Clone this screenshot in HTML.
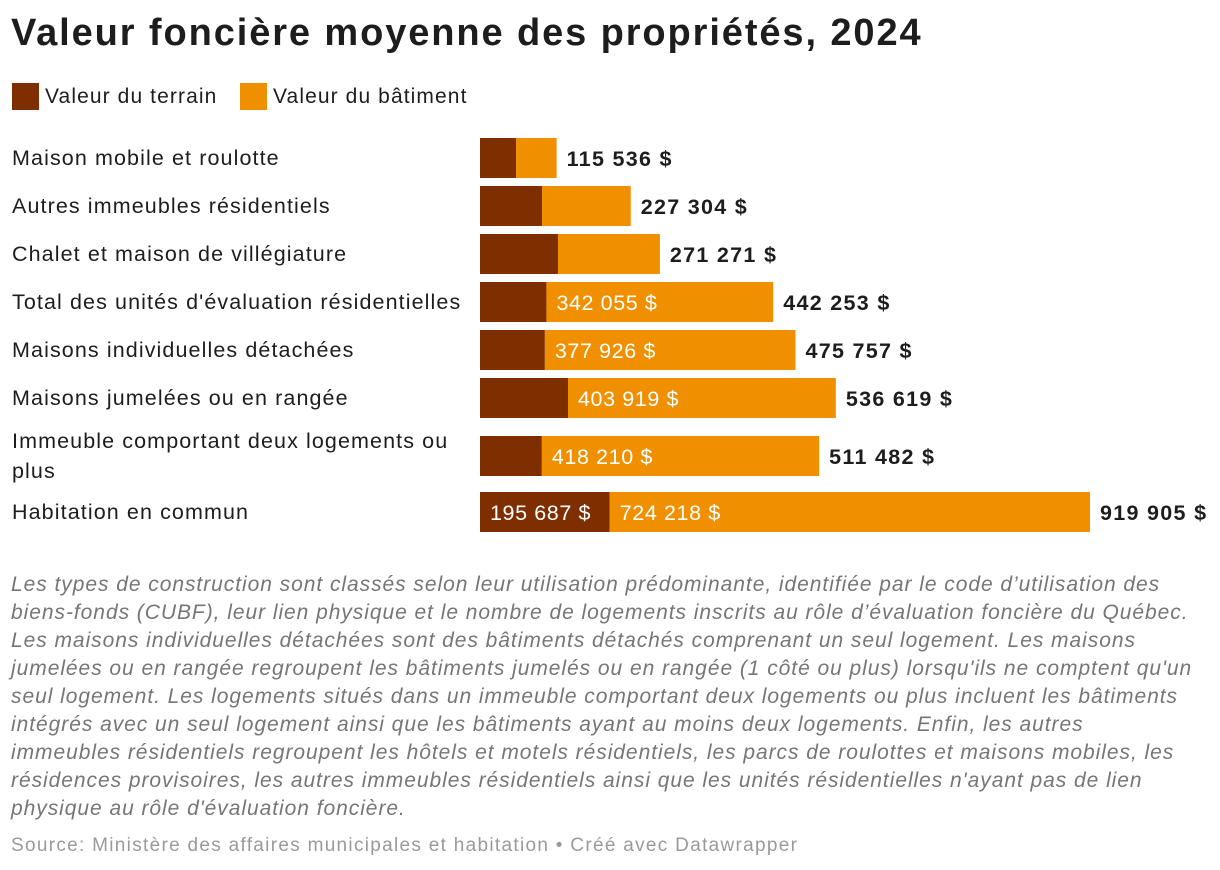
<!DOCTYPE html>
<html><head><meta charset="utf-8">
<style>
body{margin:0;width:1220px;height:870px;background:#fff;font-family:"Liberation Sans",sans-serif;color:#1d1d1d;position:relative;overflow:hidden}
#title{position:absolute;left:11px;top:12px;font-size:38px;font-weight:bold;letter-spacing:1.9px;margin:0}
.leg{position:absolute;top:83px;font-size:21px;display:flex;align-items:center;letter-spacing:1.1px}
.sw{width:27px;height:27px;margin-right:6px}
#notes{position:absolute;left:11px;top:571px;width:1215px;font-size:21px;font-style:italic;color:#767676;line-height:28px;letter-spacing:0.95px;white-space:nowrap}
#source{position:absolute;left:11px;top:835px;font-size:19px;color:#9a9a9a;letter-spacing:1.3px}
</style></head><body>
<h1 id="title">Valeur foncière moyenne des propriétés, 2024</h1>
<div class="leg" style="left:12px"><div class="sw" style="background:#7f2e00"></div>Valeur du terrain</div>
<div class="leg" style="left:240px"><div class="sw" style="background:#f09000"></div>Valeur du bâtiment</div>
<svg id="chart" width="1220" height="560" style="position:absolute;left:0;top:0"></svg>
<div id="notes">Les types de construction sont classés selon leur utilisation prédominante, identifiée par le code d’utilisation des<br>biens-fonds (CUBF), leur lien physique et le nombre de logements inscrits au rôle d’évaluation foncière du Québec.<br>Les maisons individuelles détachées sont des bâtiments détachés comprenant un seul logement. Les maisons<br>jumelées ou en rangée regroupent les bâtiments jumelés ou en rangée (1 côté ou plus) lorsqu'ils ne comptent qu'un<br>seul logement. Les logements situés dans un immeuble comportant deux logements ou plus incluent les bâtiments<br>intégrés avec un seul logement ainsi que les bâtiments ayant au moins deux logements. Enfin, les autres<br>immeubles résidentiels regroupent les hôtels et motels résidentiels, les parcs de roulottes et maisons mobiles, les<br>résidences provisoires, les autres immeubles résidentiels ainsi que les unités résidentielles n'ayant pas de lien<br>physique au rôle d'évaluation foncière.</div>
<div id="source">Source: Ministère des affaires municipales et habitation • Créé avec Datawrapper</div>
<script>
const categories=[["Maison mobile et roulotte"],["Autres immeubles résidentiels"],["Chalet et maison de villégiature"],["Total des unités d'évaluation résidentielles"],["Maisons individuelles détachées"],["Maisons jumelées ou en rangée"],["Immeuble comportant deux logements ou","plus"],["Habitation en commun"]];
const landValues=[54300,93500,117600,100198,97831,132700,93272,195687];
const buildingValues=[61236,133804,153671,342055,377926,403919,418210,724218];
const rowCenters=[158,206,254,302,350,398,456,512];
const NS="http://www.w3.org/2000/svg";
const svg=document.getElementById('chart');
const x0=480,pxPer=610/919905;
const xs=v=>x0+v*pxPer;
const fmt=v=>String(Math.round(v)).replace(/\B(?=(\d{3})+(?!\d))/g," ")+" $";
function t(x,y,s,attrs){const e=document.createElementNS(NS,'text');e.setAttribute('x',x);e.setAttribute('y',y);e.textContent=s;for(const k in attrs)e.setAttribute(k,attrs[k]);svg.appendChild(e);return e;}
categories.forEach((c,i)=>{
 const cy=rowCenters[i];
 const lab=document.createElementNS(NS,'text');
 
 
 lab.setAttribute('font-size','21.5');lab.setAttribute('fill','#1d1d1d');lab.setAttribute('letter-spacing','1.1');
 const n=c.length;
 c.forEach((line,j)=>{const ts=document.createElementNS(NS,'tspan');ts.setAttribute('x',12);ts.setAttribute('y',cy+7+(j-(n-1)/2)*30);ts.textContent=line;lab.appendChild(ts);});
 svg.appendChild(lab);
 const l=landValues[i],b=buildingValues[i];
 const r1=document.createElementNS(NS,'rect');
 
 
 r1.setAttribute('x',xs(0));r1.setAttribute('y',cy-20);r1.setAttribute('width',xs(l)-xs(0));r1.setAttribute('height',40);r1.setAttribute('fill','#7f2e00');svg.appendChild(r1);
 const r2=document.createElementNS(NS,'rect');
 
 
 r2.setAttribute('x',xs(l));r2.setAttribute('y',cy-20);r2.setAttribute('width',xs(l+b)-xs(l));r2.setAttribute('height',40);r2.setAttribute('fill','#f09000');svg.appendChild(r2);
 if(xs(l)-xs(0)>120){const e=t(xs(0)+10,cy+8,fmt(l),{'font-size':'21.5','fill':'#fff','letter-spacing':'0.6'});}
 if(xs(l+b)-xs(l)>120){const e=t(xs(l)+10,cy+8,fmt(b),{'font-size':'21.5','fill':'#fff','letter-spacing':'0.6'});}
 const e=t(xs(l+b)+10,cy+8,fmt(l+b),{'font-size':'21.5','font-weight':'bold','fill':'#1d1d1d','letter-spacing':'1.3'});
 
 
});
</script>
</body></html>
